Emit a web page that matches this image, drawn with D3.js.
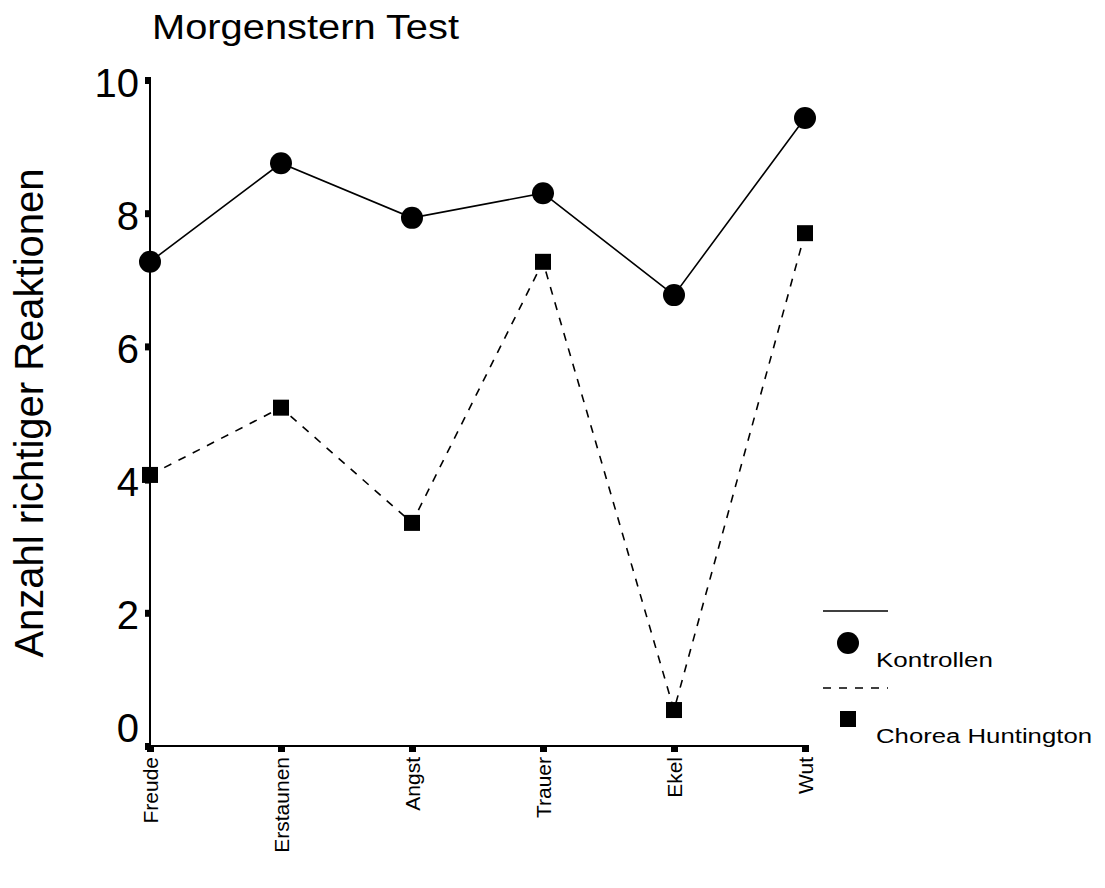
<!DOCTYPE html>
<html>
<head>
<meta charset="utf-8">
<script src="https://cdn.jsdelivr.net/npm/d3@7"></script>
<style>
  html, body { margin: 0; padding: 0; background: #fff; }
  svg { display: block; font-family: "Liberation Sans", Arial, sans-serif; }
</style>
</head>
<body>
<svg id="chart" width="1105" height="888"></svg>
<script>
// Emotion categories (x axis)
const categories = ["Freude", "Erstaunen", "Angst", "Trauer", "Ekel", "Wut"];
// Mean number of correct responses per group
const kontrollen = [7.27, 8.75, 7.93, 8.30, 6.77, 9.43];
const choreaHuntington = [4.07, 5.08, 3.35, 7.27, 0.54, 7.70];
// Y axis ticks
const yTicks = [0, 2, 4, 6, 8, 10];

const svg = d3.select("#chart");
const FONT = "Liberation Sans, Arial, sans-serif";

const x = d3.scalePoint().domain(categories).range([150, 805]).padding(0);
const y = d3.scaleLinear().domain([0, 10]).range([746, 80]);

// Y axis
const yAxis = svg.append("g").attr("transform", "translate(150,0)")
  .call(d3.axisLeft(y).tickValues(yTicks).tickSize(0).tickPadding(11).tickFormat(d3.format("d")));
yAxis.select(".domain").attr("stroke", "#000").attr("stroke-width", 2).attr("d", `M0,${y(10)}V${y(0) + 1}`);
yAxis.selectAll(".tick text").attr("font-size", 40).attr("fill", "#000")
  .attr("font-family", FONT).attr("dy", "0.35em")
  // the zero label sits a little higher so it clears the x axis
  .attr("y", d => d === 0 ? -19 : 2);
yAxis.selectAll(".tick").append("rect")
  .attr("x", -5).attr("y", -3.5).attr("width", 6).attr("height", 7).attr("fill", "#000");

// X axis
const xAxis = svg.append("g").attr("transform", `translate(0,${y(0)})`)
  .call(d3.axisBottom(x).tickSize(0).tickPadding(0));
xAxis.select(".domain").attr("stroke", "#000").attr("stroke-width", 2).attr("d", `M${x.range()[0] - 1},0H${x.range()[1] + 1}`);
xAxis.selectAll(".tick").append("rect")
  .attr("x", -3.5).attr("y", -1).attr("width", 7).attr("height", 7).attr("fill", "#000");
xAxis.selectAll(".tick text")
  .attr("font-size", 21).attr("fill", "#000")
  .attr("font-family", FONT)
  .attr("text-anchor", "end")
  .attr("transform", "translate(0,11) rotate(-90)")
  .attr("x", 0).attr("y", 0).attr("dy", "0.35em");

// Title and axis label
svg.append("text").attr("x", 152).attr("y", 39).attr("font-size", 35).attr("fill", "#000")
  .attr("textLength", 307).attr("lengthAdjust", "spacingAndGlyphs")
  .text("Morgenstern Test");
svg.append("text").attr("transform", "translate(43,413) rotate(-90)")
  .attr("text-anchor", "middle").attr("font-size", 40).attr("fill", "#000")
  .text("Anzahl richtiger Reaktionen");

// Series lines
const line = d3.line().x((d, i) => x(categories[i])).y(d => y(d));
svg.append("path").datum(kontrollen).attr("d", line)
  .attr("fill", "none").attr("stroke", "#000").attr("stroke-width", 1.6);
svg.append("path").datum(choreaHuntington).attr("d", line)
  .attr("fill", "none").attr("stroke", "#000").attr("stroke-width", 1.6)
  .attr("stroke-dasharray", "8,8");

// Markers
svg.append("g").selectAll("circle").data(kontrollen).join("circle")
  .attr("cx", (d, i) => x(categories[i])).attr("cy", d => y(d)).attr("r", 11).attr("fill", "#000");
svg.append("g").selectAll("rect").data(choreaHuntington).join("rect")
  .attr("x", (d, i) => x(categories[i]) - 8).attr("y", d => y(d) - 8)
  .attr("width", 16).attr("height", 16).attr("fill", "#000");

// Legend
const legend = svg.append("g");
legend.append("line").attr("x1", 823).attr("x2", 888).attr("y1", 611).attr("y2", 611)
  .attr("stroke", "#000").attr("stroke-width", 1.6);
legend.append("circle").attr("cx", 848).attr("cy", 643).attr("r", 11).attr("fill", "#000");
legend.append("text").attr("x", 876).attr("y", 667).attr("font-size", 20).attr("fill", "#000")
  .attr("textLength", 117).attr("lengthAdjust", "spacingAndGlyphs").text("Kontrollen");
legend.append("line").attr("x1", 823).attr("x2", 888).attr("y1", 688).attr("y2", 688)
  .attr("stroke", "#000").attr("stroke-width", 1.6).attr("stroke-dasharray", "8,8");
legend.append("rect").attr("x", 840).attr("y", 711).attr("width", 16).attr("height", 16).attr("fill", "#000");
legend.append("text").attr("x", 876).attr("y", 743).attr("font-size", 20).attr("fill", "#000")
  .attr("textLength", 216).attr("lengthAdjust", "spacingAndGlyphs").text("Chorea Huntington");
</script>
</body>
</html>
